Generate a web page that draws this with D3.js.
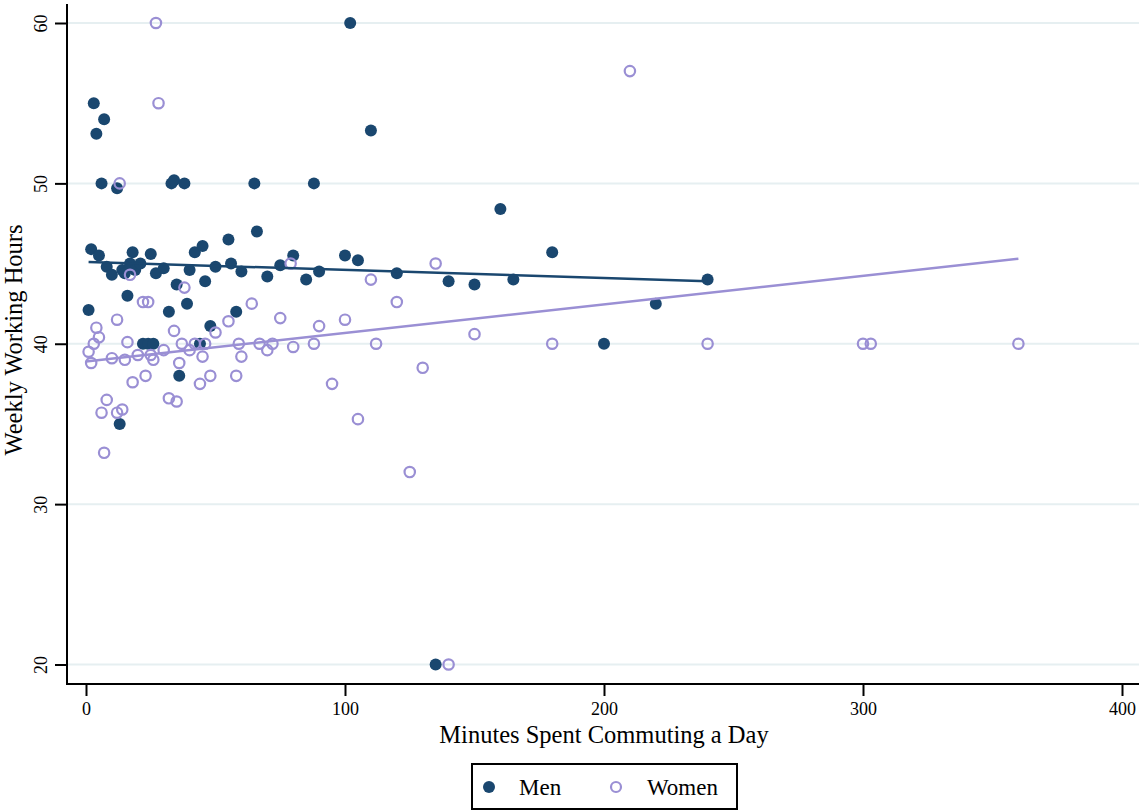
<!DOCTYPE html>
<html>
<head>
<meta charset="utf-8">
<script src="https://cdn.jsdelivr.net/npm/d3@7"></script>
<style>
  body { margin: 0; background: #fff; }
  text { font-family: "Liberation Serif", "DejaVu Serif", serif; fill: #000; }
</style>
</head>
<body>
<svg id="chart" width="1139" height="810"></svg>
<script>
// commuting minutes / weekly hours
var menX = [1, 2, 3, 4, 5, 6, 7, 8, 10, 12, 13, 14, 15, 16, 17, 18, 19, 21, 22, 24, 25, 26, 27, 30,
    32, 33, 34, 35, 36, 38, 39, 40, 42, 44, 45, 46, 48, 50, 55, 56, 58, 60, 65, 66, 70, 75, 80, 85,
    88, 90, 100, 102, 105, 110, 120, 135, 140, 150, 160, 165, 180, 200, 220, 240];
var menY = [42.1, 45.9, 55, 53.1, 45.5, 50, 54, 44.8, 44.3, 49.7, 35, 44.6, 44.4, 43, 45, 45.7, 44.6, 45, 40, 40, 45.6, 40, 44.4, 44.7,
    42, 50, 50.2, 43.7, 38, 50, 42.5, 44.6, 45.7, 40, 46.1, 43.9, 41.1, 44.8, 46.5, 45, 42, 44.5, 50, 47, 44.2, 44.9, 45.5, 44,
    50, 44.5, 45.5, 60, 45.2, 53.3, 44.4, 20, 43.9, 43.7, 48.4, 44, 45.7, 40, 42.5, 44];

var womenX = [1, 2, 3, 4, 5, 6, 7, 8, 10, 12, 12, 13, 14, 15, 16, 17, 18, 20, 22, 23, 24, 25, 26, 27, 28,
    30, 32, 34, 35, 36, 37, 38, 40, 42, 44, 45, 46, 48, 50, 55, 58, 59, 60, 64, 67, 70, 72, 75, 79, 80,
    88, 90, 95, 100, 105, 110, 112, 120, 125, 130, 135, 140, 150, 180, 210, 240, 300, 303, 360];
var womenY = [39.5, 38.8, 40, 41, 40.4, 35.7, 33.2, 36.5, 39.1, 35.7, 41.5, 50, 35.9, 39, 40.1, 44.3, 37.6, 39.3, 42.6, 38, 42.6, 39.3, 39, 60, 55,
    39.6, 36.6, 40.8, 36.4, 38.8, 40, 43.5, 39.6, 40, 37.5, 39.2, 40, 38, 40.7, 41.4, 38, 40, 39.2, 42.5, 40, 39.6, 40, 41.6, 45, 39.8,
    40, 41.1, 37.5, 41.5, 35.3, 44, 40, 42.6, 32, 38.5, 45, 20, 40.6, 40, 57, 40, 40, 40, 40];

// fitted lines (endpoints as drawn)
var menFitX = [1, 240];
var menFitY = [45.1, 43.9];
var womenFitX = [0, 360];
var womenFitY = [38.9, 45.3];

var xTicks = [0, 100, 200, 300, 400];
var yTicks = [20, 30, 40, 50, 60];
var seriesNames = ["Men", "Women"];

var navy = "#1a476f", lav = "#9a8fd4";

var svg = d3.select("#chart");
var left = 67, bottom = 684, right = 1139;

var x = d3.scaleLinear().domain([0, 400]).range([86, 1122]);
var y = d3.scaleLinear().domain([20, 60]).range([664.5, 23]);

// grid
svg.append("g").selectAll("line")
    .data(yTicks)
    .enter().append("line")
    .attr("x1", left).attr("x2", right)
    .attr("y1", function(d) { return y(d); })
    .attr("y2", function(d) { return y(d); })
    .attr("stroke", "#e6eff1")
    .attr("stroke-width", 2);

// axes
var xAxis = svg.append("g")
    .attr("transform", "translate(0," + bottom + ")")
    .call(d3.axisBottom(x).tickValues(xTicks).tickSize(12).tickPadding(6).tickFormat(d3.format("d")));
xAxis.select(".domain").remove();
xAxis.selectAll("line").attr("stroke", "#000").attr("stroke-width", 2);
xAxis.selectAll("text").style("font-size", "18px").attr("fill", "#000");

var yAxis = svg.append("g")
    .attr("transform", "translate(" + left + ",0)")
    .call(d3.axisLeft(y).tickValues(yTicks).tickSize(12).tickFormat(d3.format("d")));
yAxis.select(".domain").remove();
yAxis.selectAll("line").attr("stroke", "#000").attr("stroke-width", 2);
yAxis.selectAll("text")
    .style("font-size", "18px")
    .attr("fill", "#000")
    .attr("text-anchor", "middle")
    .attr("dy", null)
    .attr("x", null)
    .attr("transform", "translate(-26,0) rotate(-90)")
    .attr("dominant-baseline", "central");

svg.append("line")
    .attr("x1", left).attr("x2", left).attr("y1", 4).attr("y2", bottom + 1)
    .attr("stroke", "#000").attr("stroke-width", 2);
svg.append("line")
    .attr("x1", left - 1).attr("x2", right).attr("y1", bottom).attr("y2", bottom)
    .attr("stroke", "#000").attr("stroke-width", 2);

// titles
svg.append("text")
    .attr("x", 604).attr("y", 743)
    .attr("text-anchor", "middle")
    .style("font-size", "24.5px")
    .text("Minutes Spent Commuting a Day");

svg.append("text")
    .attr("transform", "translate(22,340) rotate(-90)")
    .attr("text-anchor", "middle")
    .style("font-size", "24.5px")
    .text("Weekly Working Hours");

// points
var plot = svg.append("g");

plot.selectAll(".men")
    .data(d3.range(menX.length))
    .enter().append("circle")
    .attr("class", "men")
    .attr("cx", function(i) { return x(menX[i]); })
    .attr("cy", function(i) { return y(menY[i]); })
    .attr("r", 6)
    .attr("fill", navy);

plot.selectAll(".women")
    .data(d3.range(womenX.length))
    .enter().append("circle")
    .attr("class", "women")
    .attr("cx", function(i) { return x(womenX[i]); })
    .attr("cy", function(i) { return y(womenY[i]); })
    .attr("r", 5.2)
    .attr("fill", "none")
    .attr("stroke", lav)
    .attr("stroke-width", 2.2);

// fit lines
var line = d3.line()
    .x(function(d) { return x(d[0]); })
    .y(function(d) { return y(d[1]); });

plot.append("path")
    .datum(d3.zip(menFitX, menFitY))
    .attr("d", line)
    .attr("fill", "none")
    .attr("stroke", navy)
    .attr("stroke-width", 2.5);

plot.append("path")
    .datum(d3.zip(womenFitX, womenFitY))
    .attr("d", line)
    .attr("fill", "none")
    .attr("stroke", lav)
    .attr("stroke-width", 2.5);

// legend
var leg = svg.append("g");
leg.append("rect")
    .attr("x", 472).attr("y", 764).attr("width", 265).attr("height", 45)
    .attr("fill", "#fff").attr("stroke", "#000").attr("stroke-width", 2);
leg.append("circle").attr("cx", 489).attr("cy", 787).attr("r", 6).attr("fill", navy);
leg.append("circle").attr("cx", 616).attr("cy", 787).attr("r", 5)
    .attr("fill", "none").attr("stroke", lav).attr("stroke-width", 2.2);
leg.selectAll(".lt")
    .data(seriesNames)
    .enter().append("text")
    .attr("class", "lt")
    .attr("x", function(d, i) { return i === 0 ? 519 : 647; })
    .attr("y", 795)
    .style("font-size", "23px")
    .text(function(d) { return d; });
</script>
</body>
</html>
